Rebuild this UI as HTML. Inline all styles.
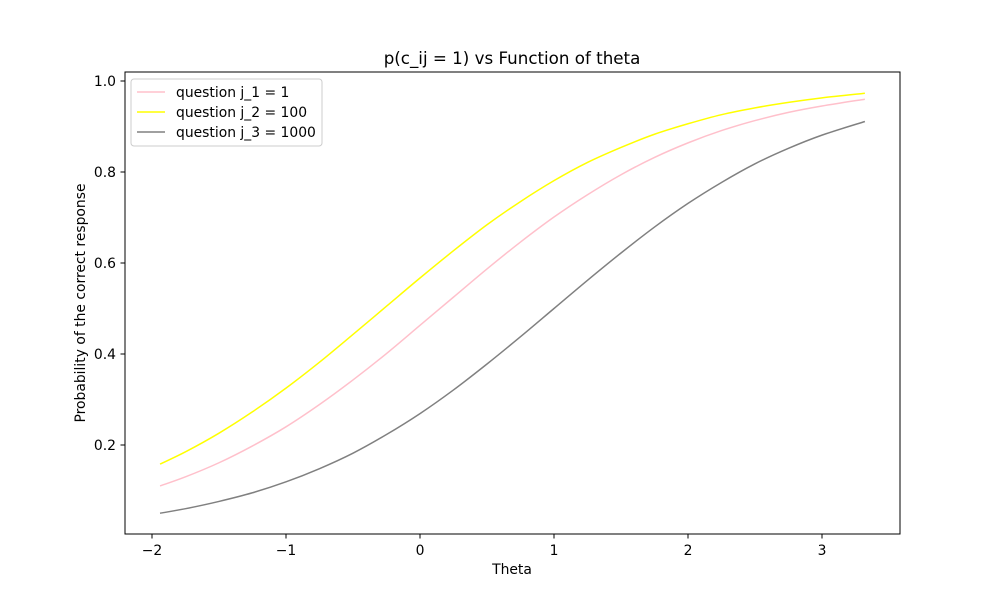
<!DOCTYPE html>
<html><head><meta charset="utf-8"><style>
body{margin:0;background:#fff;}
svg{display:block;font-family:"DejaVu Sans","Liberation Sans",sans-serif;}
</style></head><body>
<svg id="chart" width="1000" height="600" viewBox="0 0 1000 600">
<rect x="0" y="0" width="1000" height="600" fill="#fff"/>
<text x="512" y="64" font-size="16.7" text-anchor="middle">p(c_ij = 1) vs Function of theta</text>
<g id="xticks"></g><g id="yticks"></g><g id="lines"></g>
<rect x="125" y="72" width="775" height="462" fill="none" stroke="#000" stroke-width="1"/>
<text x="512" y="574" font-size="13.9" text-anchor="middle">Theta</text>
<text transform="translate(85,303) rotate(-90)" font-size="13.9" text-anchor="middle">Probability of the correct response</text>
<g id="legend"></g>
</svg>
<script>
const theta=[-1.94,-1.75,-1.5,-1.25,-1,-0.75,-0.5,-0.25,0,0.25,0.5,0.75,1,1.25,1.5,1.75,2,2.25,2.5,2.75,3,3.32];
const pinkVals=[0.110,0.130,0.161,0.198,0.240,0.289,0.343,0.401,0.463,0.525,0.587,0.646,0.701,0.750,0.794,0.832,0.864,0.891,0.913,0.931,0.945,0.960];
const yellowVals=[0.158,0.185,0.226,0.273,0.325,0.382,0.443,0.505,0.567,0.627,0.684,0.735,0.781,0.821,0.854,0.883,0.906,0.926,0.941,0.953,0.963,0.973];
const grayVals=[0.050,0.060,0.076,0.095,0.119,0.148,0.182,0.223,0.269,0.321,0.378,0.438,0.5,0.562,0.622,0.679,0.731,0.777,0.818,0.852,0.881,0.911];
const seriesNames=["question j_1 = 1","question j_2 = 100","question j_3 = 1000"];
const xTicks=[-2,-1,0,1,2,3];
const yTicks=[0.2,0.4,0.6,0.8,1.0];
const NS="http://www.w3.org/2000/svg";
function X(v){return 420+v*134;}
function Y(v){return 536-v*455;}
function mk(tag,attrs,parent){const e=document.createElementNS(NS,tag);for(const k in attrs)e.setAttribute(k,attrs[k]);parent.appendChild(e);return e;}
const xg=document.getElementById('xticks'),yg=document.getElementById('yticks'),lg=document.getElementById('lines'),leg=document.getElementById('legend');
xTicks.forEach(t=>{
  const l=mk('line',{x1:X(t),x2:X(t),y1:534,y2:538.5,stroke:'#000'},xg);
  
  
  const tx=mk('text',{x:X(t),y:555,'font-size':13.9,'text-anchor':'middle'},xg);
  tx.textContent=(t<0?'\u2212'+(-t):String(t));
  
  
});
yTicks.forEach(t=>{
  const l=mk('line',{x1:120.5,x2:125,y1:Y(t),y2:Y(t),stroke:'#000'},yg);
  
  
  const tx=mk('text',{x:116,y:Y(t)+5,'font-size':13.9,'text-anchor':'end'},yg);
  tx.textContent=t.toFixed(1);
  
  
});
const series=[[pinkVals,'#ffc0cb','pink-line'],[yellowVals,'#ffff00','yellow-line'],[grayVals,'#808080','gray-line']];
function smooth(pts){let d='M'+pts[0][0]+','+pts[0][1];for(let i=0;i<pts.length-1;i++){const p0=pts[i-1]||pts[i],p1=pts[i],p2=pts[i+1],p3=pts[i+2]||p2;d+=' C'+(p1[0]+(p2[0]-p0[0])/6)+','+(p1[1]+(p2[1]-p0[1])/6)+' '+(p2[0]-(p3[0]-p1[0])/6)+','+(p2[1]-(p3[1]-p1[1])/6)+' '+p2[0]+','+p2[1];}return d;}
series.forEach(([vals,col,name])=>{
  const pts=theta.map((t,i)=>[X(t),Y(vals[i])]);
  const p=mk('path',{d:smooth(pts),fill:'none',stroke:col,'stroke-width':1.5},lg);
  
  
});
const box=mk('rect',{x:131,y:79,width:191,height:67,rx:3,fill:'#fff','fill-opacity':0.8,stroke:'#ccc'},leg);


series.forEach(([v,col],i)=>{
  const y=92+i*20;
  const l=mk('line',{x1:137,x2:165,y1:y,y2:y,stroke:col,'stroke-width':1.5},leg);
  
  
  const t=mk('text',{x:176,y:y+5,'font-size':13.9},leg);
  t.textContent=seriesNames[i];
  
  
});
</script>
</body></html>
